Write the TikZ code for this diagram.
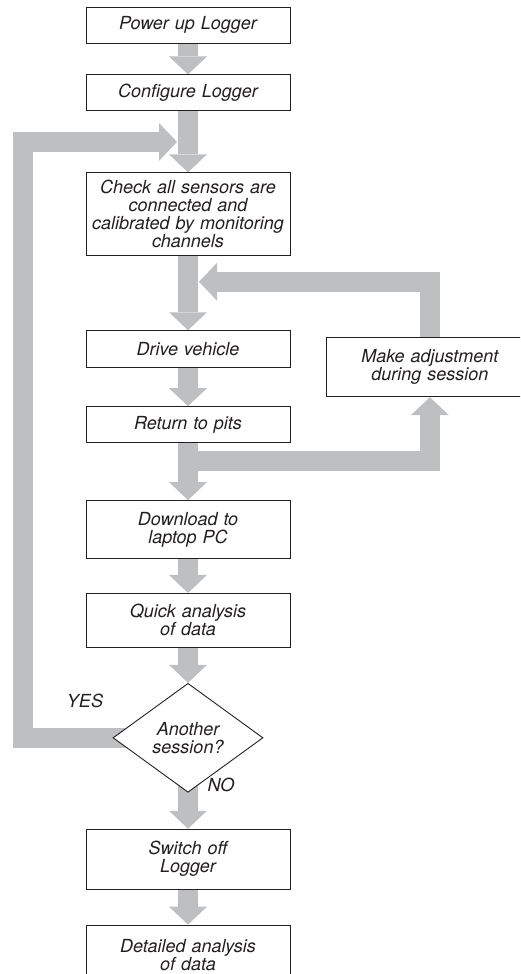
\documentclass[tikz,border=0pt]{standalone}
\usepackage{fontspec}
\setmainfont{TeX Gyre Heros}
\usetikzlibrary{positioning,shapes.geometric,arrows.meta,backgrounds,calc}

\definecolor{flowgray}{RGB}{189,191,193}
\definecolor{ink}{RGB}{35,31,32}

\tikzset{
  stepbox/.style={draw=ink, line width=0.9pt, fill=white, text=ink,
    minimum width=204pt, text width=196pt, align=center,
    inner xsep=4pt, inner ysep=2pt,
    font=\fontsize{18}{18}\selectfont\itshape},
  decision/.style={diamond, draw=ink, line width=0.9pt, fill=white, text=ink,
    aspect=1.4, minimum width=150pt, minimum height=109pt, inner sep=1pt,
    align=center, font=\fontsize{18}{18}\selectfont\itshape},
  answer/.style={text=ink, font=\fontsize{18}{20}\selectfont\itshape},
  flow/.style={draw=flowgray, line width=20pt,
    -{Triangle[width=38pt,length=18pt,line width=0pt]}}
}

\begin{document}
\begin{tikzpicture}[x=1pt,y=-1pt]

  \useasboundingbox (0,0) rectangle (520,974);
  \clip (0,0) rectangle (520,974);

  % Define nodes
  \node[stepbox, minimum height=36pt]                    (power)  at (188,25) {Power up Logger};
  \node[stepbox, minimum height=36pt, below=31pt of power]  (config) {Configure Logger};
  \node[stepbox, minimum height=83pt, below=61pt of config] (check)
    {Check all sensors are\\connected and\\calibrated by monitoring\\channels};
  \node[stepbox, minimum height=37pt, below=74pt of check]  (drive)  {Drive vehicle};
  \node[stepbox, minimum height=36pt, below=38pt of drive]  (ret)    {Return to pits};
  \node[stepbox, minimum height=58pt, below=57pt of ret]    (dl)     {Download to\\laptop PC};
  \node[stepbox, minimum height=54pt, below=34pt of dl]     (quick)  {Quick analysis\\of data};
  \node[decision, below=35pt of quick]                     (ans)    {Another\\session?};
  \node[stepbox, minimum height=60pt, below=36pt of ans]    (switch) {Switch off\\Logger};
  \node[stepbox, minimum height=60pt, below=35pt of switch] (detail) {Detailed analysis\\of data};
  \node[stepbox, minimum height=59pt, minimum width=206pt, text width=198pt,
        right=36pt of drive, yshift=-18pt]                 (adj)    {Make adjustment\\during session};

  \node[answer] (yes) at (85,701) {YES};
  \node[answer] (no)  at (221,785) {NO};

  \coordinate (merge) at ($(config.south)!0.5!(check.north)$);
  \coordinate (loopL) at (23,0 |- merge);
  \coordinate (fb)    at ([yshift=-25.5pt]check.south);

  % Connect the nodes
  \begin{pgfonlayer}{background}
    \draw[flow] (power.south)  -- (config.north);
    \draw[flow] (config.south) -- (check.north);
    \draw[flow] (check.south)  -- (drive.north);
    \draw[flow] (drive.south)  -- (ret.north);
    \draw[flow] (ret.south)    -- (dl.north);
    \draw[flow] (dl.south)     -- (quick.north);
    \draw[flow] (quick.south)  -- (ans.north);
    \draw[flow] (ans.center)   -- (switch.north);
    \draw[flow] (switch.south) -- (detail.north);
    \draw[flow] (ret.south) -- ++(0,17.5) -| (adj.south);
    \draw[flow] (adj.north) |- ([xshift=11pt]fb);
    \draw[flow] (ans.center) -| (loopL) -- ([xshift=-11pt]merge);
  \end{pgfonlayer}

\end{tikzpicture}
\end{document}
